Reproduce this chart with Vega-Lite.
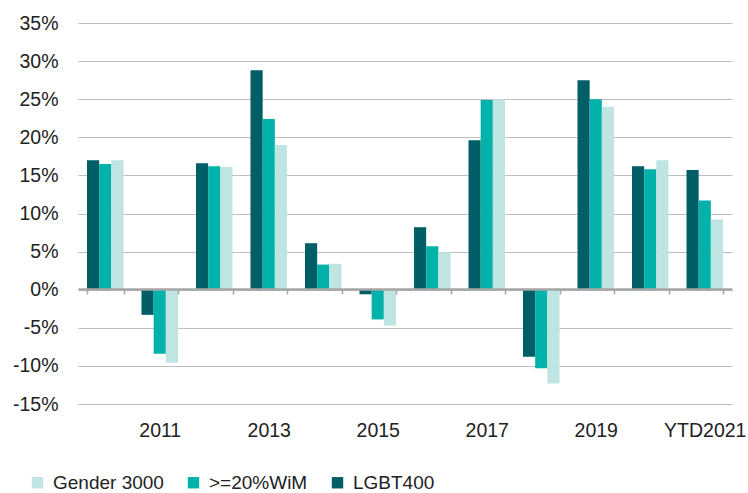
{
  "$schema": "https://vega.github.io/schema/vega-lite/v6.json",
  "width": 654,
  "height": 381,
  "autosize": "none",
  "padding": {"left": 78, "top": 23, "right": 16, "bottom": 89},
  "config": {
    "view": {"stroke": null},
    "font": "Liberation Sans",
    "axis": {"labelFont": "Liberation Sans", "labelColor": "#222222"},
    "legend": {"labelFont": "Liberation Sans"}
  },
  "data": {
    "values": [
      {"year": "2010", "series": "LGBT400", "value": 17.0},
      {"year": "2010", "series": ">=20%WiM", "value": 16.5},
      {"year": "2010", "series": "Gender 3000", "value": 17.0},
      {"year": "2011", "series": "LGBT400", "value": -3.3},
      {"year": "2011", "series": ">=20%WiM", "value": -8.4},
      {"year": "2011", "series": "Gender 3000", "value": -9.6},
      {"year": "2012", "series": "LGBT400", "value": 16.6},
      {"year": "2012", "series": ">=20%WiM", "value": 16.2},
      {"year": "2012", "series": "Gender 3000", "value": 16.1},
      {"year": "2013", "series": "LGBT400", "value": 28.8},
      {"year": "2013", "series": ">=20%WiM", "value": 22.4},
      {"year": "2013", "series": "Gender 3000", "value": 19.0},
      {"year": "2014", "series": "LGBT400", "value": 6.1},
      {"year": "2014", "series": ">=20%WiM", "value": 3.3},
      {"year": "2014", "series": "Gender 3000", "value": 3.4},
      {"year": "2015", "series": "LGBT400", "value": -0.6},
      {"year": "2015", "series": ">=20%WiM", "value": -3.9},
      {"year": "2015", "series": "Gender 3000", "value": -4.7},
      {"year": "2016", "series": "LGBT400", "value": 8.2},
      {"year": "2016", "series": ">=20%WiM", "value": 5.7},
      {"year": "2016", "series": "Gender 3000", "value": 4.9},
      {"year": "2017", "series": "LGBT400", "value": 19.6},
      {"year": "2017", "series": ">=20%WiM", "value": 24.9},
      {"year": "2017", "series": "Gender 3000", "value": 25.0},
      {"year": "2018", "series": "LGBT400", "value": -8.8},
      {"year": "2018", "series": ">=20%WiM", "value": -10.3},
      {"year": "2018", "series": "Gender 3000", "value": -12.3},
      {"year": "2019", "series": "LGBT400", "value": 27.5},
      {"year": "2019", "series": ">=20%WiM", "value": 25.0},
      {"year": "2019", "series": "Gender 3000", "value": 24.0},
      {"year": "2020", "series": "LGBT400", "value": 16.2},
      {"year": "2020", "series": ">=20%WiM", "value": 15.8},
      {"year": "2020", "series": "Gender 3000", "value": 17.0},
      {"year": "YTD2021", "series": "LGBT400", "value": 15.7},
      {"year": "YTD2021", "series": ">=20%WiM", "value": 11.7},
      {"year": "YTD2021", "series": "Gender 3000", "value": 9.2}
    ]
  },
  "mark": {"type": "bar"},
  "encoding": {
    "x": {
      "field": "year",
      "type": "nominal",
      "sort": null,
      "scale": {"paddingInner": 0.33, "paddingOuter": 0.165},
      "axis": {
        "title": null,
        "orient": "bottom",
        "offset": -115,
        "domainColor": "#a6a6a6",
        "domainWidth": 2.5,
        "tickColor": "#a6a6a6",
        "tickWidth": 1.5,
        "tickSize": 5,
        "tickBand": "extent",
        "labelAngle": 0,
        "labelFontSize": 19.5,
        "labelPadding": 127,
        "labelBaseline": "top",
        "labelExpr": "indexof(['2011','2013','2015','2017','2019','YTD2021'], datum.value) >= 0 ? datum.value : ''",
        "grid": false,
        "zindex": 1
      }
    },
    "xOffset": {
      "field": "series",
      "type": "nominal",
      "sort": ["LGBT400", ">=20%WiM", "Gender 3000"],
      "scale": {"paddingInner": 0, "paddingOuter": 0}
    },
    "y": {
      "field": "value",
      "type": "quantitative",
      "scale": {"domain": [-15, 35], "nice": false},
      "axis": {
        "title": null,
        "values": [-15, -10, -5, 0, 5, 10, 15, 20, 25, 30, 35],
        "labelExpr": "datum.value + '%'",
        "labelFontSize": 19.5,
        "labelPadding": 20,
        "ticks": false,
        "domain": false,
        "grid": true,
        "gridColor": "#bfbfbf",
        "gridWidth": 1.2
      }
    },
    "color": {
      "field": "series",
      "type": "nominal",
      "sort": ["Gender 3000", ">=20%WiM", "LGBT400"],
      "scale": {
        "domain": ["Gender 3000", ">=20%WiM", "LGBT400"],
        "range": ["#bee5e2", "#00b2aa", "#005f66"]
      },
      "legend": {
        "title": null,
        "orient": "none",
        "direction": "horizontal",
        "legendX": -50,
        "legendY": 450,
        "symbolType": "square",
        "symbolSize": 130,
        "symbolStrokeWidth": 0,
        "labelFontSize": 19,
        "labelColor": "#222222",
        "labelOffset": 6,
        "columnPadding": 20
      }
    }
  }
}
